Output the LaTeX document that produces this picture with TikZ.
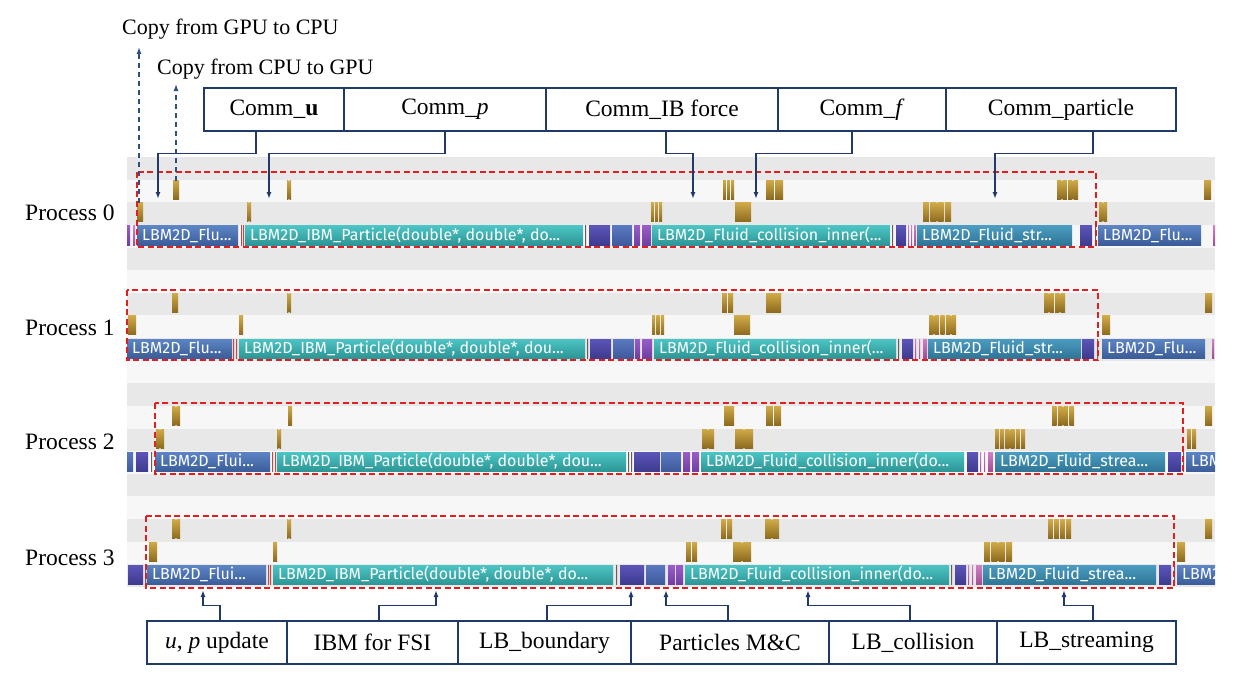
\documentclass[tikz,border=0pt]{standalone}
\usepackage{fontspec}
\setmainfont{Liberation Serif}
\newfontfamily\kfont{Fira Sans}
\usetikzlibrary{arrows.meta}
\definecolor{navy}{HTML}{1F3A68}
\definecolor{dnavy}{HTML}{2F4F80}
\definecolor{redd}{HTML}{E02020}
\definecolor{rowg}{HTML}{E8E8E8}
\definecolor{rowl}{HTML}{F7F7F7}
\definecolor{gold1}{HTML}{D0AA48}
\definecolor{gold2}{HTML}{8C6A1E}
\definecolor{kblueT}{HTML}{5C84C4}
\definecolor{kblueB}{HTML}{3A5C98}
\definecolor{kblue2T}{HTML}{5A78C0}
\definecolor{kblue2B}{HTML}{3E5A9C}
\definecolor{kindT}{HTML}{5B55B8}
\definecolor{kindB}{HTML}{3D3A8E}
\definecolor{kpurT}{HTML}{9A5CC8}
\definecolor{kpurB}{HTML}{6E3EA0}
\definecolor{kmagT}{HTML}{D080C4}
\definecolor{kmagB}{HTML}{A04C90}
\definecolor{kredc}{HTML}{C04848}
\definecolor{kdarkc}{HTML}{6B5A5A}
\definecolor{ktealT}{HTML}{4CC4C4}
\definecolor{ktealB}{HTML}{2C9494}
\definecolor{kstrT}{HTML}{4A9CC0}
\definecolor{kstrB}{HTML}{2E7496}

\newcommand\goldbar[4]{%
  \pgfmathsetmacro\gbw{(#2-#1-(#3-1)*1.2)/#3}%
  \foreach \gi in {1,...,#3}{%
    \pgfmathsetmacro\gbx{#1+(\gi-1)*(\gbw+1.2)}%
    \shade[goldsh] (\gbx,#4+0.5) rectangle ++(\gbw,19);
  }}
\newcommand\kseg[4]{\shade[#4] (#1,#3+1) rectangle (#2,#3+20.5);}
\newcommand\kseglab[6]{\kseg{#1}{#2}{#3}{#4}\node[ktext] (#5) at (#1+5,#3+11) {#6};}

\begin{document}
\begin{tikzpicture}[x=1pt,y=-1pt,
  lab/.style={font=\fontsize{23.5}{26}\selectfont, inner sep=0pt},
  clab/.style={font=\fontsize{22}{25}\selectfont, inner sep=0pt},
  tbox/.style={draw=navy, line width=1.4pt, minimum height=43pt, inner sep=0pt, font=\fontsize{23.5}{26}\selectfont},
  conn/.style={navy, line width=1.5pt, -{Latex[length=7pt,width=5pt]}},
  dconn/.style={dnavy, line width=1.3pt, dash pattern=on 5pt off 4pt, -{Latex[length=7pt,width=5pt]}},
  redbox/.style={draw=redd, line width=1.8pt, dash pattern=on 6pt off 3.5pt},
  ktext/.style={font=\kfont\fontsize{16}{17}\selectfont, text=white, anchor=west, inner sep=0pt, text height=12pt, text depth=3.5pt},
  goldsh/.style={top color=gold1, bottom color=gold2},
  kblue/.style={top color=kblueT, bottom color=kblueB},
  kblue2/.style={top color=kblue2T, bottom color=kblue2B},
  kind/.style={top color=kindT, bottom color=kindB},
  kpur/.style={top color=kpurT, bottom color=kpurB},
  kmag/.style={top color=kmagT, bottom color=kmagB},
  kred/.style={top color=kredc, bottom color=kredc},
  kdark/.style={top color=kdarkc, bottom color=kdarkc},
  kteal/.style={top color=ktealT, bottom color=ktealB},
  kstr/.style={top color=kstrT, bottom color=kstrB}]
\useasboundingbox (0,0) rectangle (1241,693);
\fill[white] (0,0) rectangle (1241,693);

% timeline rows
\foreach \k in {0,2,...,18}{\fill[rowg] (127,{157+22.63*\k}) rectangle (1215,{157+22.63*(\k+1)});}
\foreach \k in {1,3,...,17}{\fill[rowl] (127,{157+22.63*\k}) rectangle (1215,{157+22.63*(\k+1)});}

\begin{scope}
\clip (127,150) rectangle (1215,600);
% Process 0 kernels
\def\rt{224.9}
\kseg{127}{130}{\rt}{kpur}\kseg{133}{135}{\rt}{kmag}
\kseglab{137}{238}{\rt}{kblue}{k0a}{LBM2D\_Flu...}
\kseg{241}{242}{\rt}{kred}\kseg{243}{244}{\rt}{kred}
\kseglab{245}{583}{\rt}{kteal}{k0b}{LBM2D\_IBM\_Particle(double*, double*, do...}
\kseg{585}{586}{\rt}{kdark}\kseg{589}{610}{\rt}{kind}\kseg{612}{632}{\rt}{kblue2}
\kseg{634}{640}{\rt}{kpur}\kseg{642}{651}{\rt}{kpur}
\kseglab{652}{890}{\rt}{kteal}{k0c}{LBM2D\_Fluid\_collision\_inner(...}
\kseg{892}{893}{\rt}{kdark}\kseg{896}{906}{\rt}{kind}
\kseg{908}{909}{\rt}{kmag}\kseg{911}{912}{\rt}{kmag}\kseg{914}{916}{\rt}{kmag}
\kseglab{917}{1072}{\rt}{kstr}{k0d}{LBM2D\_Fluid\_str...}
\kseg{1080}{1092}{\rt}{kind}\kseg{1095}{1096}{\rt}{kdark}
\kseglab{1098}{1201}{\rt}{kblue}{k0e}{LBM2D\_Flu...}
\kseg{1213}{1215}{\rt}{kmag}
% Process 1 kernels
\def\rt{338.0}
\kseglab{127}{232}{\rt}{kblue}{k1a}{LBM2D\_Flu...}
\kseg{233}{234}{\rt}{kred}\kseg{236}{237}{\rt}{kred}
\kseglab{239}{585}{\rt}{kteal}{k1b}{LBM2D\_IBM\_Particle(double*, double*, dou...}
\kseg{587}{588}{\rt}{kdark}\kseg{590}{611}{\rt}{kind}\kseg{613}{634}{\rt}{kblue2}
\kseg{635}{640}{\rt}{kpur}\kseg{642}{652}{\rt}{kpur}
\kseglab{654}{896}{\rt}{kteal}{k1c}{LBM2D\_Fluid\_collision\_inner(...}
\kseg{898}{899}{\rt}{kdark}\kseg{902}{913}{\rt}{kind}
\kseg{915}{916}{\rt}{kmag}\kseg{919}{920}{\rt}{kmag}\kseg{923}{927}{\rt}{kmag}
\kseglab{928}{1081}{\rt}{kstr}{k1d}{LBM2D\_Fluid\_str...}
\kseg{1082}{1094}{\rt}{kind}\kseg{1097}{1098}{\rt}{kdark}
\kseglab{1102}{1205}{\rt}{kblue}{k1e}{LBM2D\_Flu...}
\kseg{1212}{1214}{\rt}{kmag}
% Process 2 kernels
\def\rt{451.2}
\kseg{127}{133}{\rt}{kblue2}\kseg{136}{148}{\rt}{kind}\kseg{151}{152}{\rt}{kdark}
\kseglab{155}{270}{\rt}{kblue}{k2a}{LBM2D\_Flui...}
\kseg{272}{273}{\rt}{kred}\kseg{275}{276}{\rt}{kred}
\kseglab{277}{626}{\rt}{kteal}{k2b}{LBM2D\_IBM\_Particle(double*, double*, dou...}
\kseg{628}{629}{\rt}{kdark}\kseg{631}{632}{\rt}{kdark}
\kseg{634}{660}{\rt}{kind}\kseg{661}{681}{\rt}{kblue2}
\kseg{683}{690}{\rt}{kpur}\kseg{692}{699}{\rt}{kpur}
\kseglab{701}{964}{\rt}{kteal}{k2c}{LBM2D\_Fluid\_collision\_inner(do...}
\kseg{967}{978}{\rt}{kind}
\kseg{980}{981}{\rt}{kmag}\kseg{984}{985}{\rt}{kmag}\kseg{988}{993}{\rt}{kmag}
\kseglab{995}{1165}{\rt}{kstr}{k2d}{LBM2D\_Fluid\_strea...}
\kseg{1168}{1181}{\rt}{kind}\kseg{1183}{1184}{\rt}{kdark}
\kseglab{1186}{1215}{\rt}{kblue}{k2e}{LBM2D}
% Process 3 kernels
\def\rt{564.3}
\kseg{128}{143}{\rt}{kind}\kseg{145}{146}{\rt}{kdark}
\kseglab{147}{266}{\rt}{kblue}{k3a}{LBM2D\_Flui...}
\kseg{268}{269}{\rt}{kred}\kseg{270}{271}{\rt}{kred}
\kseglab{273}{613}{\rt}{kteal}{k3b}{LBM2D\_IBM\_Particle(double*, double*, do...}
\kseg{616}{617}{\rt}{kdark}\kseg{620}{644}{\rt}{kind}\kseg{646}{665}{\rt}{kblue2}
\kseg{668}{675}{\rt}{kpur}\kseg{676}{683}{\rt}{kpur}
\kseglab{685}{949}{\rt}{kteal}{k3c}{LBM2D\_Fluid\_collision\_inner(do...}
\kseg{951}{952}{\rt}{kdark}\kseg{955}{966}{\rt}{kind}
\kseg{968}{969}{\rt}{kmag}\kseg{972}{973}{\rt}{kmag}\kseg{976}{982}{\rt}{kmag}
\kseglab{983}{1156}{\rt}{kstr}{k3d}{LBM2D\_Fluid\_strea...}
\kseg{1159}{1171}{\rt}{kind}\kseg{1174}{1175}{\rt}{kdark}
\kseglab{1177}{1215}{\rt}{kblue}{k3e}{LBM2D}
\end{scope}

% memcpy bars
\goldbar{173}{179}{1}{179.6}\goldbar{287}{291}{2}{179.6}\goldbar{723}{734}{3}{179.6}
\goldbar{766}{783}{2}{179.6}\goldbar{1057}{1078}{4}{179.6}\goldbar{1204}{1211}{1}{179.6}
\goldbar{137}{143}{1}{202.3}\goldbar{247}{251}{2}{202.3}\goldbar{651}{662}{3}{202.3}
\goldbar{735}{751}{1}{202.3}\goldbar{923}{951}{4}{202.3}\goldbar{1099}{1107}{2}{202.3}
\goldbar{172}{178}{1}{292.8}\goldbar{287}{291}{2}{292.8}\goldbar{722}{733}{2}{292.8}
\goldbar{766}{781}{1}{292.8}\goldbar{1044}{1065}{4}{292.8}\goldbar{1205}{1212}{1}{292.8}
\goldbar{128}{136}{1}{315.4}\goldbar{239}{243}{1}{315.4}\goldbar{652}{664}{3}{315.4}
\goldbar{734}{750}{1}{315.4}\goldbar{929}{956}{5}{315.4}\goldbar{1102}{1110}{1}{315.4}
\goldbar{172}{180}{2}{405.9}\goldbar{288}{292}{1}{405.9}\goldbar{724}{734}{1}{405.9}
\goldbar{766}{781}{2}{405.9}\goldbar{1052}{1074}{4}{405.9}\goldbar{1205}{1212}{1}{405.9}
\goldbar{156}{164}{2}{428.6}\goldbar{277}{281}{2}{428.6}\goldbar{702}{714}{2}{428.6}
\goldbar{735}{753}{2}{428.6}\goldbar{995}{1025}{6}{428.6}\goldbar{1187}{1196}{2}{428.6}
\goldbar{172}{180}{2}{519.1}\goldbar{287}{291}{2}{519.1}\goldbar{721}{732}{2}{519.1}
\goldbar{765}{779}{2}{519.1}\goldbar{1048}{1071}{4}{519.1}\goldbar{1205}{1212}{1}{519.1}
\goldbar{149}{157}{1}{541.7}\goldbar{273}{277}{1}{541.7}\goldbar{686}{697}{2}{541.7}
\goldbar{733}{751}{2}{541.7}\goldbar{984}{1012}{4}{541.7}\goldbar{1177}{1185}{1}{541.7}

% red dashed frames
\draw[redbox] (137,172) rectangle (1096,247);
\draw[redbox] (127,290) rectangle (1098,360);
\draw[redbox] (155,403) rectangle (1183,474);
\draw[redbox] (146,516) rectangle (1174,588);

% process labels
\node[lab, anchor=west] (p0) at (25,213) {Process 0};
\node[lab, anchor=west] (p1) at (25,328) {Process 1};
\node[lab, anchor=west] (p2) at (25,442) {Process 2};
\node[lab, anchor=west] (p3) at (25,558) {Process 3};

% copy annotations
\node[clab, anchor=west] (g2c) at (122,29) {Copy from GPU to CPU};
\node[clab, anchor=west] (c2g) at (157,69) {Copy from CPU to GPU};
\coordinate (g2cs) at (139,203);
\coordinate (g2ct) at (139,47);
\coordinate (c2gs) at (176,181);
\coordinate (c2gt) at (176,84);
\draw[dconn] (g2cs) -- (g2ct);
\draw[dconn] (c2gs) -- (c2gt);

% top boxes
\node[tbox, minimum width=140pt] (cu) at (274,109.5) {Comm\_\textbf{u}};
\node[tbox, minimum width=202pt] (cp) at (445,109.5) {Comm\_\textit{p}};
\node[tbox, minimum width=232pt] (cib) at (662,109.5) {Comm\_IB force};
\node[tbox, minimum width=168pt] (cf) at (862,109.5) {Comm\_\textit{f}};
\node[tbox, minimum width=230pt] (cpa) at (1061,109.5) {Comm\_particle};
\coordinate (tu) at (158,199);
\coordinate (tp) at (269,199);
\coordinate (tib) at (693,199);
\coordinate (tf) at (756,199);
\coordinate (tpa) at (995,199);
\draw[conn] ([xshift=-18pt]cu.south) -- ++(0,22) -| (tu);
\draw[conn] (cp.south) -- ++(0,22) -| (tp);
\draw[conn] ([xshift=4pt]cib.south) -- ++(0,22) -| (tib);
\draw[conn] ([xshift=-10pt]cf.south) -- ++(0,22) -| (tf);
\draw[conn] ([xshift=32pt]cpa.south) -- ++(0,22) -| (tpa);

% bottom boxes
\node[tbox, minimum width=140pt] (bu) at (217,642.5) {\textit{u}, \textit{p} update};
\node[tbox, minimum width=171pt] (bib) at (372.5,642.5) {IBM for FSI};
\node[tbox, minimum width=173pt] (bbd) at (544.5,642.5) {LB\_boundary};
\node[tbox, minimum width=198pt] (bpm) at (730,642.5) {Particles M\&C};
\node[tbox, minimum width=168pt] (bco) at (913,642.5) {LB\_collision};
\node[tbox, minimum width=179pt] (bst) at (1086.5,642.5) {LB\_streaming};
\coordinate (su) at (203,590);
\coordinate (sib) at (436,590);
\coordinate (sbd) at (631,590);
\coordinate (spm) at (666,590);
\coordinate (sco) at (808,590);
\coordinate (sst) at (1064,590);
\draw[conn] ([xshift=3pt]bu.north) -- ++(0,-15) -| (su);
\draw[conn] ([xshift=6.5pt]bib.north) -- ++(0,-15) -| (sib);
\draw[conn] ([xshift=2.5pt]bbd.north) -- ++(0,-15) -| (sbd);
\draw[conn] ([xshift=-2pt]bpm.north) -- ++(0,-15) -| (spm);
\draw[conn] ([xshift=-3pt]bco.north) -- ++(0,-15) -| (sco);
\draw[conn] ([xshift=6.5pt]bst.north) -- ++(0,-15) -| (sst);
\end{tikzpicture}
\end{document}
